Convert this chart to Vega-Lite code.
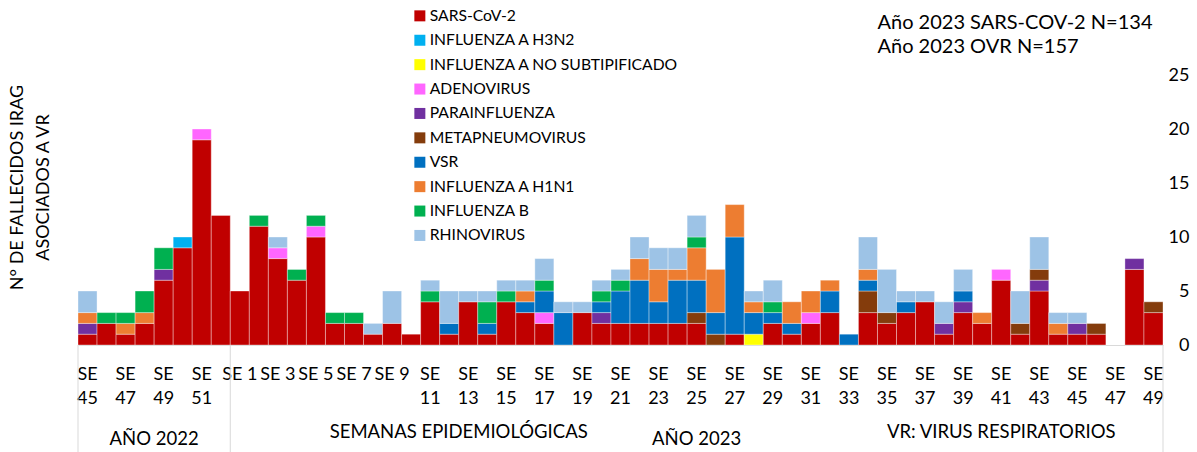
{
  "$schema": "https://vega.github.io/schema/vega-lite/v6.json",
  "width": 1085,
  "height": 270,
  "autosize": {"type": "none"},
  "padding": {"left": 78, "top": 75, "right": 34, "bottom": 107},
  "background": "white",
  "config": {"view": {"stroke": null}, "font": "Lato", "text": {"font": "Lato"}},
  "datasets": {
    "semanas": [
      {"s": "2022-45", "SARS-CoV-2": 1, "PARAINFLUENZA": 1, "INFLUENZA A H1N1": 1, "RHINOVIRUS": 2},
      {"s": "2022-46", "SARS-CoV-2": 2, "INFLUENZA B": 1},
      {"s": "2022-47", "SARS-CoV-2": 1, "INFLUENZA A H1N1": 1, "INFLUENZA B": 1},
      {"s": "2022-48", "SARS-CoV-2": 2, "INFLUENZA A H1N1": 1, "INFLUENZA B": 2},
      {"s": "2022-49", "SARS-CoV-2": 6, "PARAINFLUENZA": 1, "INFLUENZA B": 2},
      {"s": "2022-50", "SARS-CoV-2": 9, "INFLUENZA A H3N2": 1},
      {"s": "2022-51", "SARS-CoV-2": 19, "ADENOVIRUS": 1},
      {"s": "2022-52", "SARS-CoV-2": 12},
      {"s": "2023-01", "SARS-CoV-2": 5},
      {"s": "2023-02", "SARS-CoV-2": 11, "INFLUENZA B": 1},
      {"s": "2023-03", "SARS-CoV-2": 8, "ADENOVIRUS": 1, "RHINOVIRUS": 1},
      {"s": "2023-04", "SARS-CoV-2": 6, "INFLUENZA B": 1},
      {"s": "2023-05", "SARS-CoV-2": 10, "ADENOVIRUS": 1, "INFLUENZA B": 1},
      {"s": "2023-06", "SARS-CoV-2": 2, "INFLUENZA B": 1},
      {"s": "2023-07", "SARS-CoV-2": 2, "INFLUENZA B": 1},
      {"s": "2023-08", "SARS-CoV-2": 1, "RHINOVIRUS": 1},
      {"s": "2023-09", "SARS-CoV-2": 2, "RHINOVIRUS": 3},
      {"s": "2023-10", "SARS-CoV-2": 1},
      {"s": "2023-11", "SARS-CoV-2": 4, "INFLUENZA B": 1, "RHINOVIRUS": 1},
      {"s": "2023-12", "SARS-CoV-2": 1, "VSR": 1, "RHINOVIRUS": 3},
      {"s": "2023-13", "SARS-CoV-2": 4, "RHINOVIRUS": 1},
      {"s": "2023-14", "SARS-CoV-2": 1, "VSR": 1, "INFLUENZA B": 2, "RHINOVIRUS": 1},
      {"s": "2023-15", "SARS-CoV-2": 4, "INFLUENZA B": 1, "RHINOVIRUS": 1},
      {"s": "2023-16", "SARS-CoV-2": 3, "VSR": 1, "INFLUENZA A H1N1": 1, "RHINOVIRUS": 1},
      {"s": "2023-17", "SARS-CoV-2": 2, "ADENOVIRUS": 1, "VSR": 2, "INFLUENZA B": 1, "RHINOVIRUS": 2},
      {"s": "2023-18", "VSR": 3, "RHINOVIRUS": 1},
      {"s": "2023-19", "SARS-CoV-2": 3, "RHINOVIRUS": 1},
      {"s": "2023-20", "SARS-CoV-2": 2, "PARAINFLUENZA": 1, "VSR": 1, "INFLUENZA B": 1, "RHINOVIRUS": 1},
      {"s": "2023-21", "SARS-CoV-2": 2, "VSR": 3, "INFLUENZA B": 1, "RHINOVIRUS": 1},
      {"s": "2023-22", "SARS-CoV-2": 2, "VSR": 4, "INFLUENZA A H1N1": 2, "RHINOVIRUS": 2},
      {"s": "2023-23", "SARS-CoV-2": 2, "VSR": 2, "INFLUENZA A H1N1": 3, "RHINOVIRUS": 2},
      {"s": "2023-24", "SARS-CoV-2": 2, "VSR": 4, "INFLUENZA A H1N1": 1, "RHINOVIRUS": 2},
      {"s": "2023-25", "SARS-CoV-2": 2, "METAPNEUMOVIRUS": 1, "VSR": 3, "INFLUENZA A H1N1": 3, "INFLUENZA B": 1, "RHINOVIRUS": 2},
      {"s": "2023-26", "METAPNEUMOVIRUS": 1, "VSR": 2, "INFLUENZA A H1N1": 4},
      {"s": "2023-27", "SARS-CoV-2": 1, "VSR": 9, "INFLUENZA A H1N1": 3},
      {"s": "2023-28", "INFLUENZA A NO SUBTIPIFICADO": 1, "VSR": 2, "INFLUENZA A H1N1": 1, "RHINOVIRUS": 1},
      {"s": "2023-29", "SARS-CoV-2": 2, "VSR": 1, "INFLUENZA B": 1, "RHINOVIRUS": 2},
      {"s": "2023-30", "SARS-CoV-2": 1, "VSR": 1, "INFLUENZA A H1N1": 2},
      {"s": "2023-31", "SARS-CoV-2": 2, "ADENOVIRUS": 1, "INFLUENZA A H1N1": 2},
      {"s": "2023-32", "SARS-CoV-2": 3, "VSR": 2, "INFLUENZA A H1N1": 1},
      {"s": "2023-33", "VSR": 1},
      {"s": "2023-34", "SARS-CoV-2": 3, "METAPNEUMOVIRUS": 2, "VSR": 1, "INFLUENZA A H1N1": 1, "RHINOVIRUS": 3},
      {"s": "2023-35", "SARS-CoV-2": 2, "METAPNEUMOVIRUS": 1, "RHINOVIRUS": 4},
      {"s": "2023-36", "SARS-CoV-2": 3, "VSR": 1, "RHINOVIRUS": 1},
      {"s": "2023-37", "SARS-CoV-2": 4, "RHINOVIRUS": 1},
      {"s": "2023-38", "SARS-CoV-2": 1, "PARAINFLUENZA": 1, "RHINOVIRUS": 2},
      {"s": "2023-39", "SARS-CoV-2": 3, "PARAINFLUENZA": 1, "VSR": 1, "RHINOVIRUS": 2},
      {"s": "2023-40", "SARS-CoV-2": 2, "INFLUENZA A H1N1": 1},
      {"s": "2023-41", "SARS-CoV-2": 6, "ADENOVIRUS": 1},
      {"s": "2023-42", "SARS-CoV-2": 1, "METAPNEUMOVIRUS": 1, "RHINOVIRUS": 3},
      {"s": "2023-43", "SARS-CoV-2": 5, "PARAINFLUENZA": 1, "METAPNEUMOVIRUS": 1, "RHINOVIRUS": 3},
      {"s": "2023-44", "SARS-CoV-2": 1, "INFLUENZA A H1N1": 1, "RHINOVIRUS": 1},
      {"s": "2023-45", "SARS-CoV-2": 1, "PARAINFLUENZA": 1, "RHINOVIRUS": 1},
      {"s": "2023-46", "SARS-CoV-2": 1, "METAPNEUMOVIRUS": 1},
      {"s": "2023-47"},
      {"s": "2023-48", "SARS-CoV-2": 7, "PARAINFLUENZA": 1},
      {"s": "2023-49", "SARS-CoV-2": 3, "METAPNEUMOVIRUS": 1}
    ]
  },
  "resolve": {"axis": {"y": "independent"}},
  "layer": [
    {
      "data": {"name": "semanas"},
      "transform": [
        {"fold": ["SARS-CoV-2", "INFLUENZA A H3N2", "INFLUENZA A NO SUBTIPIFICADO", "ADENOVIRUS", "PARAINFLUENZA", "METAPNEUMOVIRUS", "VSR", "INFLUENZA A H1N1", "INFLUENZA B", "RHINOVIRUS"], "as": ["virus", "n"]},
        {"filter": "datum.n > 0"},
        {"calculate": "indexof(['SARS-CoV-2','INFLUENZA A H3N2','INFLUENZA A NO SUBTIPIFICADO','ADENOVIRUS','PARAINFLUENZA','METAPNEUMOVIRUS','VSR','INFLUENZA A H1N1','INFLUENZA B','RHINOVIRUS'], datum.virus)", "as": "o"}
      ],
      "mark": {"type": "bar", "stroke": "white", "strokeWidth": 0.6, "strokeOpacity": 0.6},
      "encoding": {
        "x": {
          "field": "s", "type": "ordinal",
          "scale": {"domain": ["2022-45","2022-46","2022-47","2022-48","2022-49","2022-50","2022-51","2022-52","2023-01","2023-02","2023-03","2023-04","2023-05","2023-06","2023-07","2023-08","2023-09","2023-10","2023-11","2023-12","2023-13","2023-14","2023-15","2023-16","2023-17","2023-18","2023-19","2023-20","2023-21","2023-22","2023-23","2023-24","2023-25","2023-26","2023-27","2023-28","2023-29","2023-30","2023-31","2023-32","2023-33","2023-34","2023-35","2023-36","2023-37","2023-38","2023-39","2023-40","2023-41","2023-42","2023-43","2023-44","2023-45","2023-46","2023-47","2023-48","2023-49"], "paddingInner": 0, "paddingOuter": 0},
          "axis": {
            "title": null,
            "labelExpr": "(parseInt(slice(datum.value,5)) % 2 == 0) ? '' : ((slice(datum.value,0,4) == '2023' && parseInt(slice(datum.value,5)) < 10) ? 'SE ' + parseInt(slice(datum.value,5)) : ['SE', '' + parseInt(slice(datum.value,5))])",
            "labelAngle": 0, "labelFontSize": 18, "labelFont": "Lato", "labelLineHeight": 24, "labelPadding": 20,
            "labelColor": "#000", "ticks": false, "domainColor": "#d9d9d9", "labelOverlap": false, "labelBound": false, "labelFlush": false
          }
        },
        "y": {
          "field": "n", "type": "quantitative", "stack": "zero",
          "scale": {"domain": [0, 25], "nice": false},
          "axis": {"orient": "right", "title": null, "values": [0, 5, 10, 15, 20, 25], "labelAlign": "right", "labelPadding": 26, "ticks": false, "domain": false, "grid": false, "labelFontSize": 18, "labelFont": "Lato", "labelColor": "#000"}
        },
        "color": {
          "field": "virus", "type": "nominal",
          "scale": {
            "domain": ["SARS-CoV-2", "INFLUENZA A H3N2", "INFLUENZA A NO SUBTIPIFICADO", "ADENOVIRUS", "PARAINFLUENZA", "METAPNEUMOVIRUS", "VSR", "INFLUENZA A H1N1", "INFLUENZA B", "RHINOVIRUS"],
            "range": ["#C00000", "#00B0F0", "#FFFF00", "#FF66FF", "#7030A0", "#843C0C", "#0070C0", "#ED7D31", "#00B050", "#9DC3E6"]
          },
          "legend": {"title": null, "orient": "none", "legendX": 334, "legendY": -67, "direction": "vertical", "symbolType": "square", "symbolSize": 121, "symbolStrokeWidth": 0, "labelFontSize": 15.7, "labelFont": "Lato", "labelColor": "#000", "rowPadding": 7.4, "labelOffset": 2, "labelLimit": 400,
            "labelExpr": "indexof(['SARS-CoV-2','INFLUENZA A H3N2','ADENOVIRUS'], datum.label) >= 0 ? '\u00a0' + datum.label : datum.label"}
        },
        "order": {"field": "o", "type": "quantitative", "sort": "ascending"}
      }
    },
    {
      "data": {"values": [{"s": "2022-45"}, {"s": "2023-01"}]},
      "mark": {"type": "rule", "color": "#d9d9d9", "strokeWidth": 1},
      "encoding": {
        "x": {"field": "s", "type": "ordinal", "bandPosition": 0},
        "y": {"datum": 0, "type": "quantitative", "axis": {"orient": "left", "title": ["N° DE FALLECIDOS IRAG", "ASOCIADOS A VR"], "labels": false, "ticks": false, "domain": false, "grid": false, "titleFontSize": 18, "titleFont": "Lato", "titleFontWeight": "normal", "titleColor": "#000", "titlePadding": 26, "titleY": 112, "titleLineHeight": 26}},
        "y2": {"datum": -9.95}
      }
    },
    {
      "data": {"values": [{"s": "2023-49"}]},
      "mark": {"type": "rule", "color": "#d9d9d9", "strokeWidth": 1},
      "encoding": {
        "x": {"field": "s", "type": "ordinal", "bandPosition": 1},
        "y": {"datum": 0, "type": "quantitative", "axis": null},
        "y2": {"datum": -9.95}
      }
    },
    {
      "data": {"values": [{"s": "2023-35", "t": "Año 2023 SARS-COV-2 N=134\nAño 2023 OVR N=157"}]},
      "mark": {"type": "text", "align": "left", "baseline": "top", "lineBreak": "\n", "lineHeight": 24, "fontSize": 20, "font": "Lato", "color": "#000"},
      "encoding": {
        "x": {"field": "s", "type": "ordinal", "bandPosition": 0},
        "y": {"datum": 30.7, "type": "quantitative", "axis": null},
        "text": {"field": "t"}
      }
    },
    {
      "data": {"values": [{"s": "2022-49", "t": "AÑO 2022"}]},
      "mark": {"type": "text", "align": "center", "baseline": "middle", "fontSize": 18.5, "font": "Lato", "color": "#000"},
      "encoding": {
        "x": {"field": "s", "type": "ordinal", "bandPosition": 0},
        "y": {"datum": -8.7, "type": "quantitative", "axis": null},
        "text": {"field": "t"}
      }
    },
    {
      "data": {"values": [{"s": "2023-13", "t": "SEMANAS EPIDEMIOLÓGICAS"}]},
      "mark": {"type": "text", "align": "center", "baseline": "middle", "fontSize": 18.5, "font": "Lato", "color": "#000"},
      "encoding": {
        "x": {"field": "s", "type": "ordinal", "bandPosition": 0},
        "y": {"datum": -8.05, "type": "quantitative", "axis": null},
        "text": {"field": "t"}
      }
    },
    {
      "data": {"values": [{"s": "2023-25", "t": "AÑO 2023"}]},
      "mark": {"type": "text", "align": "center", "baseline": "middle", "fontSize": 18.5, "font": "Lato", "color": "#000"},
      "encoding": {
        "x": {"field": "s", "type": "ordinal", "bandPosition": 0.5},
        "y": {"datum": -8.7, "type": "quantitative", "axis": null},
        "text": {"field": "t"}
      }
    },
    {
      "data": {"values": [{"s": "2023-41", "t": "VR: VIRUS RESPIRATORIOS"}]},
      "mark": {"type": "text", "align": "center", "baseline": "middle", "fontSize": 18.5, "font": "Lato", "color": "#000"},
      "encoding": {
        "x": {"field": "s", "type": "ordinal", "bandPosition": 0.5},
        "y": {"datum": -8.05, "type": "quantitative", "axis": null},
        "text": {"field": "t"}
      }
    }
  ]
}
